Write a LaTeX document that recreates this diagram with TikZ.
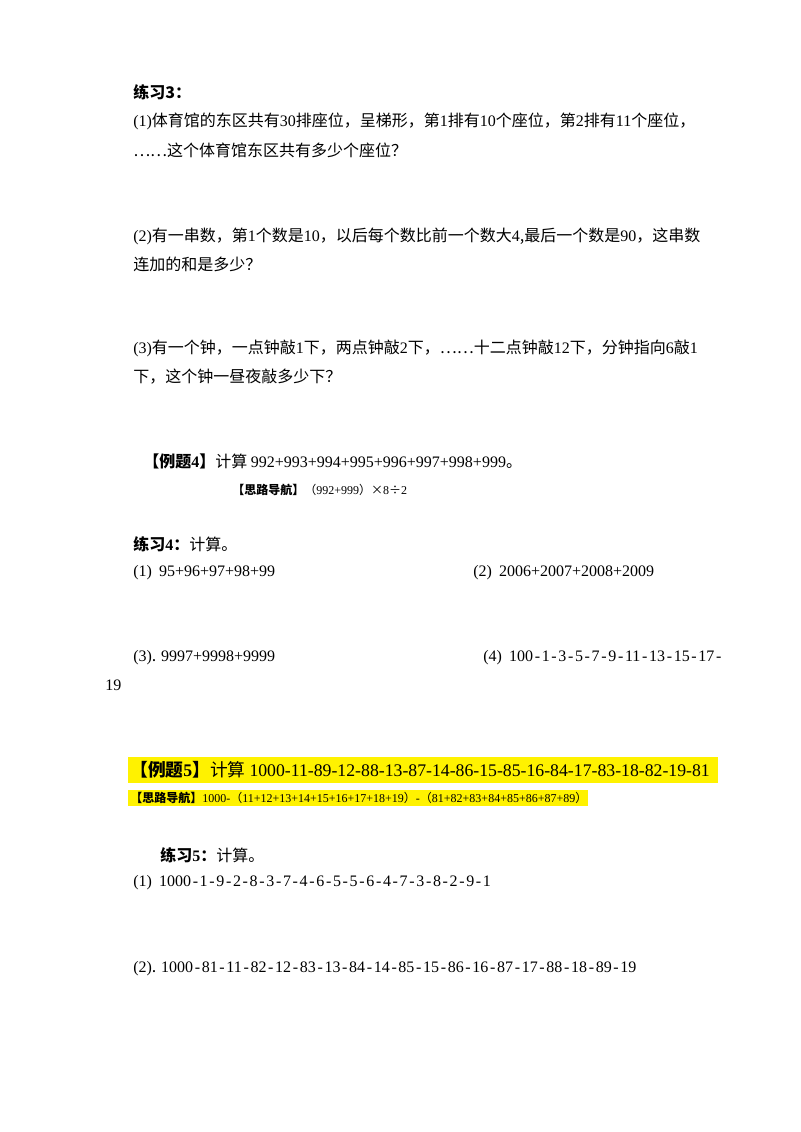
\documentclass[tikz,border=0pt]{standalone}
\usepackage{fontspec}
\setmainfont{Noto Sans CJK SC}
\newfontfamily\numf{Liberation Serif}
\newcommand{\n}[1]{{\numf #1}}
\newcommand{\m}{\kern1.25pt-\kern1.25pt}
\begin{document}
\begin{tikzpicture}[x=0.75pt,y=-0.75pt,
  txt/.style={anchor=west,inner sep=0,font=\fontsize{12}{14}\selectfont},
  sm/.style={anchor=west,inner sep=0,font=\fontsize{9}{11}\selectfont}]
\useasboundingbox[fill=white] (0,0) rectangle (800,1132);
\fill[yellow] (128,757) rectangle (718,783);
\fill[yellow] (128,790) rectangle (588,806);
\node[txt,font=\fontsize{12}{14}\selectfont\bfseries] (a1) at (133,92) {练习3：};
\node[txt] (a2) at (133,121) {\n{(1)}体育馆的东区共有\n{30}排座位，呈梯形，第\n{1}排有\n{10}个座位，第\n{2}排有\n{11}个座位，};
\node[txt] (a3) at (133,150) {……这个体育馆东区共有多少个座位？};
\node[txt] (a4) at (133,236) {\n{(2)}有一串数，第\n{1}个数是\n{10}，以后每个数比前一个数大\n{4},最后一个数是\n{90}，这串数};
\node[txt] (a5) at (133,264) {连加的和是多少？};
\node[txt] (a6) at (133,348) {\n{(3)}有一个钟，一点钟敲\n{1}下，两点钟敲\n{2}下，……十二点钟敲\n{12}下，分钟指向\n{6}敲\n{1}};
\node[txt] (a7) at (133,377) {下，这个钟一昼夜敲多少下？};
\node[txt] (b1) at (143,461) {\textbf{【例题\n{\bfseries 4}】}计算 \n{992+993+994+995+996+997+998+999}。};
\node[sm] (b2) at (232,490) {\textbf{【思路导航】}（\n{992+999}）×\n{8}÷\n{2}};
\node[txt] (c1) at (133,544) {\textbf{练习\n{\bfseries 4}：}计算。};
\node[txt] (c2) at (133,573) {\n{(1)}\ \ \n{95+96+97+98+99}};
\node[txt] (c3) at (473,573) {\n{(2)}\ \ \n{2006+2007+2008+2009}};
\node[txt] (c4) at (133,658) {\n{(3)}. \n{9997+9998+9999}};
\node[txt] (c5) at (483,658) {\n{(4)}\ \ \n{100\m1\m3\m5\m7\m9\m11\m13\m15\m17\m}};
\node[txt] (c6) at (105,685) {\n{19}};
\node[txt,font=\fontsize{13.3}{15}\selectfont] (d1) at (130,770) {\textbf{【例题\n{\bfseries 5}】}计算 \n{1000-11-89-12-88-13-87-14-86-15-85-16-84-17-83-18-82-19-81}};
\node[sm] (d2) at (130,798) {\textbf{【思路导航】}\n{1000-}（\n{11+12+13+14+15+16+17+18+19}）\n{-}（\n{81+82+83+84+85+86+87+89}）};
\node[txt] (e1) at (160,855) {\textbf{练习\n{\bfseries 5}：}计算。};
\node[txt] (e2) at (133,883) {\n{(1)}\ \ \n{1000\m1\m9\m2\m8\m3\m7\m4\m6\m5\m5\m6\m4\m7\m3\m8\m2\m9\m1}};
\node[txt] (e3) at (133,969) {\n{(2)}. \n{1000\m81\m11\m82\m12\m83\m13\m84\m14\m85\m15\m86\m16\m87\m17\m88\m18\m89\m19}};
\end{tikzpicture}
\end{document}
